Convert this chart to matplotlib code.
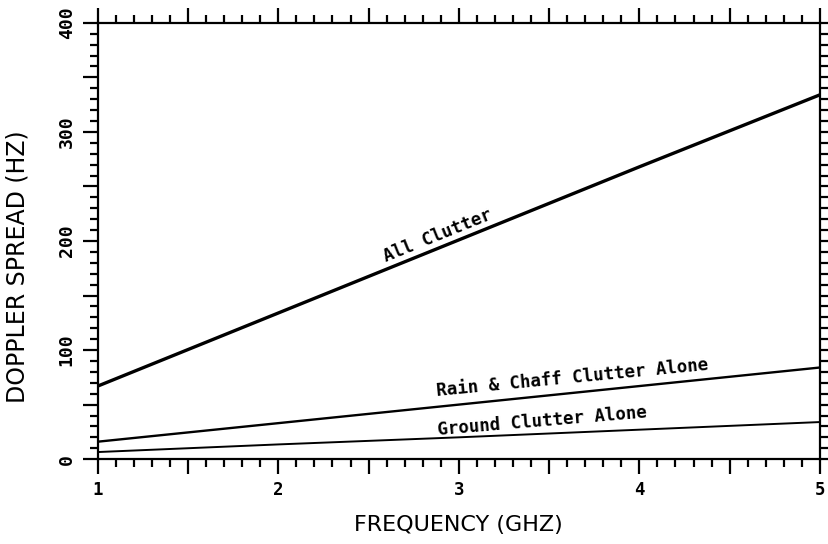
import matplotlib.pyplot as plt
import numpy as np
from matplotlib.ticker import MultipleLocator, FuncFormatter

# frequency (GHz) and doppler spread (Hz)
freq = [1, 2, 3, 4, 5]
all_clutter = [67, 134, 201, 268, 334]
rain_chaff = [16, 33, 50, 67, 84]
ground = [6.5, 13.5, 20, 27, 34]

plt.rcParams['font.family'] = ['DejaVu Sans Mono']
plt.rcParams['font.weight'] = 'bold'

fig = plt.figure(figsize=(8.29, 5.44), dpi=100)
ax = fig.add_axes([0.118, 0.156, 0.871, 0.802])

ax.plot(freq, all_clutter, color='black', lw=2.4)
ax.plot(freq, rain_chaff, color='black', lw=1.7)
ax.plot(freq, ground, color='black', lw=1.4)

ax.set_xlim(1, 5)
ax.set_ylim(0, 400)

# long ticks every half unit, labels only on whole numbers
ax.xaxis.set_major_locator(MultipleLocator(0.5))
ax.xaxis.set_minor_locator(MultipleLocator(0.1))
ax.yaxis.set_major_locator(MultipleLocator(50))
ax.yaxis.set_minor_locator(MultipleLocator(10))
ax.xaxis.set_major_formatter(FuncFormatter(lambda v, p: '%d' % v if abs(v - round(v)) < 1e-6 else ''))
ax.yaxis.set_major_formatter(FuncFormatter(lambda v, p: '%d' % v if int(round(v)) % 100 == 0 else ''))

ax.tick_params(which='both', direction='out', top=True, right=True, width=1.6, color='black')
ax.tick_params(which='major', length=11)
ax.tick_params(which='minor', length=6)
ax.tick_params(axis='x', labelsize=12.5, pad=5)
ax.tick_params(axis='y', labelsize=13, labelrotation=90, pad=5)
for lbl in ax.get_yticklabels():
    lbl.set_va('center')

for sp in ax.spines.values():
    sp.set_linewidth(1.6)

ax.set_xlabel('FREQUENCY (GHZ)', fontsize=16, labelpad=11, fontweight='normal',
              family=['DejaVu Sans'])
ax.set_ylabel('DOPPLER SPREAD (HZ)', fontsize=17, fontweight='normal',
              family=['DejaVu Sans'])
ax.yaxis.set_label_coords(-0.095, 0.44)

ax.text(2.88, 205, 'All Clutter', rotation=22, ha='center', va='center', fontsize=12.5)
ax.text(3.63, 74, 'Rain & Chaff Clutter Alone', rotation=5.5, ha='center', va='center', fontsize=12.5)
ax.text(3.46, 35, 'Ground Clutter Alone', rotation=4.8, ha='center', va='center', fontsize=12.5)

fig.savefig('out.png', dpi=100)
